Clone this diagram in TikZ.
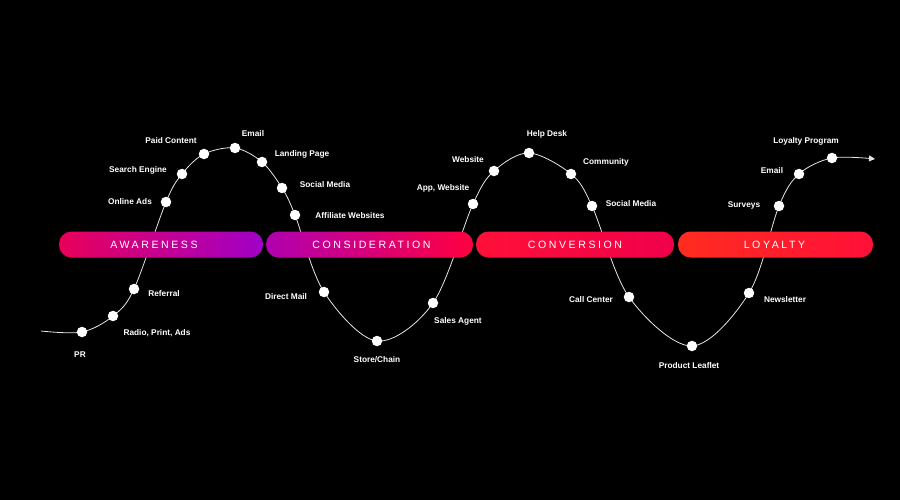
\documentclass[tikz,border=0pt]{standalone}
\usepackage{fontspec}
\setmainfont{Liberation Sans}
\newfontfamily\barfont[LetterSpace=24]{Liberation Sans}
\usetikzlibrary{arrows.meta}
\definecolor{awL}{HTML}{E8005A}
\definecolor{awR}{HTML}{A000C8}
\definecolor{coL}{HTML}{B000B0}
\definecolor{coR}{HTML}{FF0040}
\definecolor{cvL}{HTML}{FF1038}
\definecolor{cvR}{HTML}{F0004A}
\definecolor{loL}{HTML}{FF2C20}
\definecolor{loR}{HTML}{FF1038}
\definecolor{curvecol}{HTML}{E6E6E6}
\tikzset{
  lbl/.style={text=white, inner sep=0pt, yshift=-0.8pt, font=\bfseries\fontsize{8.3}{10}\selectfont},
  stagebar/.style={text=white, inner sep=0pt, minimum height=26pt, rounded corners=12.5pt,
    font=\barfont\fontsize{10.6}{12}\selectfont},
  dotnode/.style={circle, fill=white, minimum size=10.5pt, inner sep=0pt},
  curveline/.style={draw=curvecol, line width=0.8pt}
}
\begin{document}
\begin{tikzpicture}[x=1pt,y=-1pt]
\fill[black] (0,0) rectangle (900,500);
\useasboundingbox (0,0) rectangle (900,500);
% curve points
\coordinate (s) at (41,331);
\coordinate (pr) at (82,332);
\coordinate (rad) at (113,316);
\coordinate (ref) at (134,289);
\coordinate (oad) at (166,202);
\coordinate (sea) at (182,174);
\coordinate (pai) at (204,154);
\coordinate (em1) at (235,148);
\coordinate (lan) at (262,162);
\coordinate (so1) at (282,188);
\coordinate (aff) at (295,215);
\coordinate (dir) at (324,292);
\coordinate (sto) at (377,341);
\coordinate (sal) at (433,303);
\coordinate (app) at (473,204);
\coordinate (web) at (494,171);
\coordinate (hel) at (529,153);
\coordinate (com) at (571,174);
\coordinate (so2) at (592,206);
\coordinate (cal) at (629,297);
\coordinate (pro) at (692,346);
\coordinate (new) at (749,293);
\coordinate (sur) at (779,206);
\coordinate (em2) at (799,174);
\coordinate (loy) at (832,158);
\coordinate (e) at (875,159);
\draw[curveline, -{Triangle[length=6pt,width=6pt]}] plot[smooth, tension=0.55] coordinates {(s) (pr) (rad) (ref) (oad) (sea) (pai) (em1) (lan) (so1) (aff) (dir) (sto) (sal) (app) (web) (hel) (com) (so2) (cal) (pro) (new) (sur) (em2) (loy) (e)};
% bars
\node[stagebar, left color=awL, right color=awR, minimum width=204pt] (aw) at (161,244.5) {AWARENESS\hspace*{14pt}};
\node[stagebar, left color=coL, right color=coR, minimum width=207pt] (co) at (369.5,244.5) {CONSIDERATION\hspace*{-4pt}};
\node[stagebar, left color=cvL, right color=cvR, minimum width=198pt] (cv) at (575,244.5) {CONVERSION};
\node[stagebar, left color=loL, right color=loR, minimum width=195pt] (lo) at (775.5,244.5) {LOYALTY\hspace*{2pt}};
% dots
\foreach \p in {pr,rad,ref,oad,sea,pai,em1,lan,so1,aff,dir,sto,sal,app,web,hel,com,so2,cal,pro,new,sur,em2,loy}
  \node[dotnode] (d\p) at (\p) {};
% labels
\node[lbl] (lpr) at (80,354) {PR};
\node[lbl] (lrad) at (157,332) {Radio, Print, Ads};
\node[lbl] (lref) at (164,293) {Referral};
\node[lbl] (load) at (130,201) {Online Ads};
\node[lbl] (lsea) at (138,170) {Search Engine};
\node[lbl] (lpai) at (171,140) {Paid Content};
\node[lbl] (lem1) at (253,133) {Email};
\node[lbl] (llan) at (302,154) {Landing Page};
\node[lbl] (lso1) at (325,184) {Social Media};
\node[lbl] (laff) at (350,215) {Affiliate Websites};
\node[lbl] (ldir) at (286,296) {Direct Mail};
\node[lbl] (lsto) at (377,359) {Store/Chain};
\node[lbl] (lsal) at (458,321) {Sales Agent};
\node[lbl] (lapp) at (443,188) {App, Website};
\node[lbl] (lweb) at (468,159) {Website};
\node[lbl] (lhel) at (547,134) {Help Desk};
\node[lbl] (lcom) at (606,162) {Community};
\node[lbl] (lso2) at (631,203) {Social Media};
\node[lbl] (lcal) at (591,299) {Call Center};
\node[lbl] (lpro) at (689,365) {Product Leaflet};
\node[lbl] (lnew) at (785,299) {Newsletter};
\node[lbl] (lsur) at (744,205) {Surveys};
\node[lbl] (lem2) at (772,170) {Email};
\node[lbl] (lloy) at (806,141) {Loyalty Program};
\end{tikzpicture}
\end{document}
